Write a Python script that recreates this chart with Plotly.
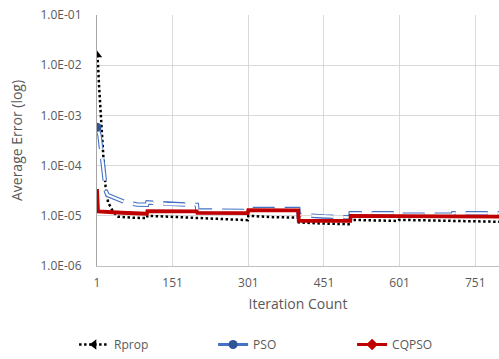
import plotly.graph_objects as go

# ---- data ----
rprop_iter = [1, 3, 5, 8, 10, 12, 15, 18, 23, 33, 43, 70, 100, 101, 150, 200, 250, 300,
              301, 350, 400, 401, 450, 503, 504, 550, 597, 600, 700, 800]
rprop_err = [1.6e-2, 1.1e-2, 4e-3, 1.1e-3, 5e-4, 2e-4, 9e-5, 3.8e-5, 1.85e-5, 1.2e-5, 9.6e-6,
             9.2e-6, 9.0e-6, 1.0e-5, 9.6e-6, 9.2e-6, 8.6e-6, 8.2e-6,
             1.0e-5, 9.4e-6, 9.2e-6, 7.4e-6, 7.0e-6, 6.8e-6, 8.3e-6, 8.0e-6, 7.9e-6, 8.3e-6,
             8.0e-6, 7.6e-6]

pso_iter = [1, 6, 10, 12, 16, 19, 22, 58, 80, 100, 101, 140, 189, 199, 200, 300,
            301, 400, 401, 450, 503, 504, 598, 599, 706, 707, 800]
pso_err = [5.8e-4, 4e-4, 1.8e-4, 1.2e-4, 6e-5, 3e-5, 2.6e-5, 1.85e-5, 1.68e-5, 1.66e-5,
           1.85e-5, 1.72e-5, 1.65e-5, 1.65e-5, 1.28e-5, 1.25e-5,
           1.36e-5, 1.36e-5, 1.04e-5, 9.7e-6, 9.3e-6, 1.12e-5, 1.12e-5, 1.05e-5, 1.05e-5,
           1.12e-5, 1.12e-5]

cqpso_iter = [1, 3, 50, 100, 101, 199, 200, 300, 301, 400, 401, 503, 504, 600, 601, 800]
cqpso_err = [3.4e-5, 1.22e-5, 1.15e-5, 1.1e-5, 1.24e-5, 1.22e-5, 1.14e-5, 1.13e-5,
             1.3e-5, 1.28e-5, 7.95e-6, 7.95e-6, 1.0e-5, 1.0e-5, 9.6e-6, 9.6e-6]

x_ticks = [1, 151, 301, 451, 601, 751]
y_ticks = [1e-6, 1e-5, 1e-4, 1e-3, 1e-2, 1e-1]
y_tick_text = ["1.0E-06", "1.0E-05", "1.0E-04", "1.0E-03", "1.0E-02", "1.0E-01"]
names = ["Rprop", "PSO", "CQPSO"]

BLACK = "#000000"
BLUE = "#2F5597"
BLUE_LINE = "#4472C4"
RED = "#C00000"
TXT = "#595959"
FONT = "Open Sans"

fig = go.Figure()

# Rprop
fig.add_trace(go.Scatter(x=rprop_iter, y=rprop_err, mode="lines", showlegend=False,
                         line=dict(color=BLACK, width=2.5, dash="2.5px,2.5px")))
fig.add_trace(go.Scatter(x=rprop_iter[:1], y=rprop_err[:1], mode="markers", showlegend=False,
                         marker=dict(symbol="triangle-up", size=9, color=BLACK)))
# PSO (outlined double line)
fig.add_trace(go.Scatter(x=pso_iter, y=pso_err, mode="lines", showlegend=False,
                         line=dict(color=BLUE_LINE, width=4.5, dash="22px,10px")))
fig.add_trace(go.Scatter(x=pso_iter, y=pso_err, mode="lines", showlegend=False,
                         line=dict(color="white", width=2.3, dash="22px,10px")))
fig.add_trace(go.Scatter(x=pso_iter[:1], y=pso_err[:1], mode="markers", showlegend=False,
                         marker=dict(symbol="circle", size=9, color=BLUE)))
# CQPSO
fig.add_trace(go.Scatter(x=cqpso_iter, y=cqpso_err, mode="lines", showlegend=False,
                         line=dict(color=RED, width=3.8)))

# legend-only entries
fig.add_trace(go.Scatter(x=[None], y=[None], mode="lines+markers", name=names[0],
                         line=dict(color=BLACK, width=2.5, dash="2.5px,2.5px"),
                         marker=dict(symbol="triangle-left", size=9, color=BLACK)))
fig.add_trace(go.Scatter(x=[None], y=[None], mode="lines+markers", name=names[1],
                         line=dict(color=BLUE_LINE, width=3),
                         marker=dict(symbol="circle", size=9, color=BLUE)))
fig.add_trace(go.Scatter(x=[None], y=[None], mode="lines+markers", name=names[2],
                         line=dict(color=RED, width=3),
                         marker=dict(symbol="diamond", size=9, color=RED)))

fig.update_layout(
    width=499, height=359,
    margin=dict(l=97, r=0, t=15, b=92),
    paper_bgcolor="white", plot_bgcolor="white",
    font=dict(family=FONT, size=12, color=TXT),
    showlegend=True,
    legend=dict(orientation="h", x=-0.057, xanchor="left", y=-0.313, yanchor="middle",
                entrywidth=94, entrywidthmode="pixels", itemwidth=30,
                font=dict(family=FONT, size=12, color=TXT), bgcolor="rgba(0,0,0,0)"),
)
fig.update_xaxes(range=[1, 798], tickvals=x_ticks, ticktext=[str(v) for v in x_ticks],
                 showgrid=True, gridcolor="#D9D9D9", gridwidth=1, zeroline=False,
                 showline=True, linecolor="#BFBFBF", linewidth=1, ticks="",
                 ticklabelstandoff=6,
                 tickfont=dict(family=FONT, size=12, color=TXT),
                 title=dict(text="Iteration Count", font=dict(family=FONT, size=14, color=TXT),
                            standoff=8))
fig.update_yaxes(type="log", range=[-6, -1], tickvals=y_ticks, ticktext=y_tick_text,
                 showgrid=True, gridcolor="#D9D9D9", gridwidth=1, zeroline=False,
                 showline=True, linecolor="#A6A6A6", linewidth=1, ticks="",
                 ticklabelstandoff=12,
                 tickfont=dict(family=FONT, size=12, color=TXT),
                 title=dict(text="Average Error (log)", font=dict(family=FONT, size=14, color=TXT),
                            standoff=14))

fig.write_html("out.html")
